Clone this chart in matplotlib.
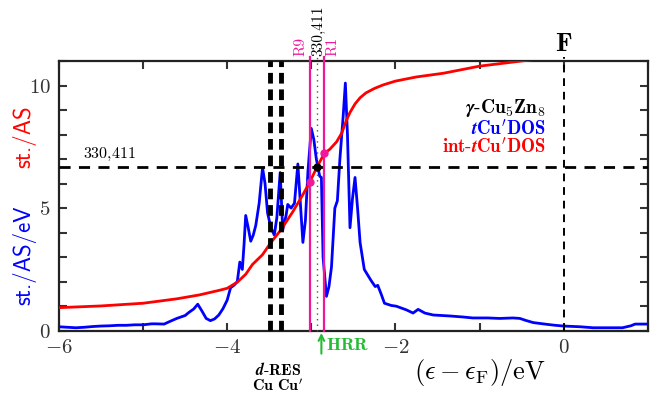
import matplotlib
matplotlib.use("Agg")
from matplotlib import pyplot as plt
from matplotlib.ticker import MultipleLocator

plt.rcParams['mathtext.fontset'] = 'cm'
plt.rcParams['font.family'] = 'serif'
plt.rcParams['font.serif'] = ['cmr10']
plt.rcParams['axes.unicode_minus'] = False

# tCu'DOS (st./AS/eV)
dos_x = [-6.0, -5.9, -5.8, -5.7, -5.6, -5.5, -5.4, -5.3, -5.2, -5.1, -5.0, -4.9, -4.85, -4.75,
         -4.68, -4.6, -4.5, -4.45, -4.4, -4.35, -4.3, -4.25, -4.2, -4.15, -4.1, -4.05, -4.0,
         -3.96, -3.92, -3.88, -3.85, -3.82, -3.8, -3.78, -3.75, -3.72, -3.69, -3.66, -3.62,
         -3.58, -3.55, -3.52, -3.48, -3.44, -3.41, -3.37, -3.34, -3.3, -3.28, -3.24, -3.2,
         -3.18, -3.16, -3.13, -3.1, -3.07, -3.04, -3.0, -2.97, -2.94, -2.9, -2.88, -2.86,
         -2.82, -2.79, -2.76, -2.72, -2.69, -2.66, -2.62, -2.595, -2.57, -2.54, -2.51, -2.48,
         -2.45, -2.42, -2.37, -2.29, -2.24, -2.21, -2.17, -2.13, -2.05, -1.99, -1.87, -1.79,
         -1.73, -1.65, -1.55, -1.45, -1.35, -1.2, -1.08, -0.9, -0.76, -0.6, -0.52, -0.45,
         -0.36, -0.2, -0.1, 0.0, 0.2, 0.35, 0.5, 0.7, 0.8, 0.85, 1.0]
dos_y = [0.16, 0.14, 0.12, 0.14, 0.17, 0.19, 0.2, 0.22, 0.22, 0.24, 0.24, 0.28, 0.28, 0.27,
         0.38, 0.5, 0.62, 0.76, 0.88, 1.08, 0.8, 0.5, 0.41, 0.48, 0.64, 0.9, 1.25,
         1.75, 1.85, 2.0, 2.8, 2.5, 3.5, 4.7, 4.2, 3.65, 3.9, 4.3, 5.2,
         6.65, 6.0, 4.8, 4.2, 3.9, 4.6, 6.45, 4.1, 4.7, 5.15, 5.0, 5.2,
         6.0, 6.8, 5.2, 3.6, 4.5, 6.5, 8.25, 7.8, 7.0, 6.3, 6.25, 3.0,
         1.4, 1.8, 2.6, 5.0, 5.3, 7.0, 8.8, 10.1, 8.0, 4.2, 5.4, 6.25,
         5.0, 3.6, 2.5, 2.05, 1.8, 1.85, 1.5, 1.12, 1.03, 1.0, 0.85, 0.72,
         0.87, 0.72, 0.64, 0.62, 0.6, 0.56, 0.52, 0.52, 0.5, 0.52, 0.5, 0.42,
         0.33, 0.26, 0.22, 0.19, 0.16, 0.12, 0.12, 0.12, 0.2, 0.27, 0.27]

# int-tCu'DOS (st./AS)
int_x = [-6.0, -5.5, -5.0, -4.6, -4.33, -4.09, -4.0, -3.88, -3.78, -3.7, -3.58, -3.49,
         -3.36, -3.22, -3.1, -3.02, -2.93, -2.845, -2.78, -2.7, -2.64, -2.58, -2.54, -2.48,
         -2.42, -2.35, -2.25, -2.15, -2.0, -1.75, -1.43, -1.0, -0.5, -0.3]
int_y = [0.94, 1.01, 1.12, 1.30, 1.46, 1.65, 1.73, 1.98, 2.3, 2.7, 3.1, 3.55,
         4.12, 4.85, 5.55, 6.05, 6.69, 7.23, 7.4, 7.7, 8.05, 8.6, 8.9, 9.25,
         9.5, 9.7, 9.88, 10.02, 10.18, 10.35, 10.5, 10.79, 11.0, 11.08]

level_330 = 6.69          # 330,411
x_330 = -2.93
cu_lines = [-3.49, -3.36]  # d-RES Cu Cu'
r9_x, r9_y = -3.02, 6.05
r1_x, r1_y = -2.845, 7.23
hrr_x = -2.88

xticks = [-6, -4, -2, 0]
xticklabels = [r'$\mathbf{-6}$', r'$\mathbf{-4}$', r'$\mathbf{-2}$', r'$\mathbf{0}$']
yticks = [0, 5, 10]
yticklabels = [r'$\mathbf{0}$', r'$\mathbf{5}$', r'$\mathbf{10}$']

pink = '#f0189a'
green = '#22bb33'
tickc = '#333333'

fig = plt.figure(figsize=(6.55, 3.97), dpi=100)
ax = fig.add_axes([59 / 655, 1 - 330.7 / 397, (647.7 - 59) / 655, (330.7 - 61) / 397])

ax.plot(dos_x, dos_y, color='#0000ff', lw=2, zorder=3)
ax.plot(int_x, int_y, color='#ff0000', lw=2, zorder=4)

ax.axhline(level_330, color='black', lw=2, ls=(0, (4, 3)), zorder=5)
for cx in cu_lines:
    ax.axvline(cx, color='black', lw=3.5, ls=(0, (2.2, 1.2)), zorder=5)
ax.plot([x_330, x_330], [0, 11.2], color='#555555', lw=1, ls=(0, (1, 3)),
        zorder=5, clip_on=False)
ax.plot([r9_x, r9_x], [0, 11.15], color=pink, lw=1.6, zorder=6, clip_on=False)
ax.plot([r1_x, r1_x], [0, 11.15], color=pink, lw=1.6, zorder=6, clip_on=False)
ax.plot([0, 0], [0, 11.15], color='black', lw=1.4, ls=(0, (4, 3)), zorder=5, clip_on=False)

ax.plot([r9_x, r1_x], [r9_y, r1_y], 'o', color=pink, ms=5, zorder=7, ls='none')
ax.plot([x_330], [level_330], 'o', color='black', ms=5, zorder=7)

ax.set_xlim(-6, 1)
ax.set_ylim(0, 11)
ax.set_xticks(xticks)
ax.set_xticklabels(xticklabels, fontsize=15, color=tickc)
ax.set_yticks(yticks)
ax.set_yticklabels(yticklabels, fontsize=15, color=tickc)
ax.xaxis.set_minor_locator(MultipleLocator(1))
ax.yaxis.set_minor_locator(MultipleLocator(1))
ax.tick_params(which='both', direction='in', top=True, right=True, width=1.5, color=tickc)
ax.tick_params(which='major', length=6, pad=6)
ax.tick_params(which='minor', length=6)
for s in ax.spines.values():
    s.set_linewidth(1.6)
    s.set_color('#222222')

ax.set_xlabel(r'$(\epsilon - \epsilon_{\mathrm{F}})/\mathrm{eV}$', fontsize=19, x=0.715, labelpad=0)

fig.text(24 / 655, 1 - 137 / 397, 'st./AS', color='#ff0000', rotation=90, fontsize=16.5,
         family='cmss10', ha='center', va='center')
fig.text(24 / 655, 1 - 255 / 397, 'st./AS/eV', color='#0000ff', rotation=90, fontsize=16.5,
         family='cmss10', ha='center', va='center')

ax.text(-5.72, level_330 + 0.15, r'$\mathbf{330{,}411}$', fontsize=11.5, ha='left', va='bottom')
ax.text(r9_x - 0.02, 11.2, 'R9', color=pink, rotation=90, fontsize=11, ha='right', va='bottom')
ax.text(x_330 + 0.01, 11.2, '330,411', color='black', rotation=90, fontsize=11,
        ha='center', va='bottom')
ax.text(r1_x + 0.02, 11.2, 'R1', color=pink, rotation=90, fontsize=11, ha='left', va='bottom')
ax.text(0, 11.2, r'$\mathbf{F}$', fontsize=19, ha='center', va='bottom')

ax.text(-0.21, 9.08, r'$\boldsymbol{\gamma}\mathbf{\text{-}Cu_5Zn_8}$', fontsize=14,
        ha='right', va='center')
ax.text(-0.21, 8.25, r'$\boldsymbol{t}\mathbf{Cu^{\prime}DOS}$', fontsize=13.5,
        color='#0000ff', ha='right', va='center')
ax.text(-0.21, 7.5, r'$\mathbf{int\text{-}}\boldsymbol{t}\mathbf{Cu^{\prime}DOS}$', fontsize=13.5,
        color='#ff0000', ha='right', va='center')

ax.annotate('', xy=(hrr_x, 0.02), xytext=(hrr_x, -1.05), annotation_clip=False,
            arrowprops=dict(arrowstyle='->', color=green, lw=1.5))
ax.text(hrr_x + 0.06, -0.58, r'$\mathbf{HRR}$', color=green, fontsize=13, ha='left', va='center')
ax.text(-3.40, -1.57, r'$\boldsymbol{d}\mathbf{\text{-}RES}$', fontsize=11.5, ha='center', va='center')
ax.text(-3.40, -2.22, r"$\mathbf{Cu\ Cu^{\prime}}$", fontsize=11.5, ha='center', va='center')

fig.savefig('out.png', dpi=100)
